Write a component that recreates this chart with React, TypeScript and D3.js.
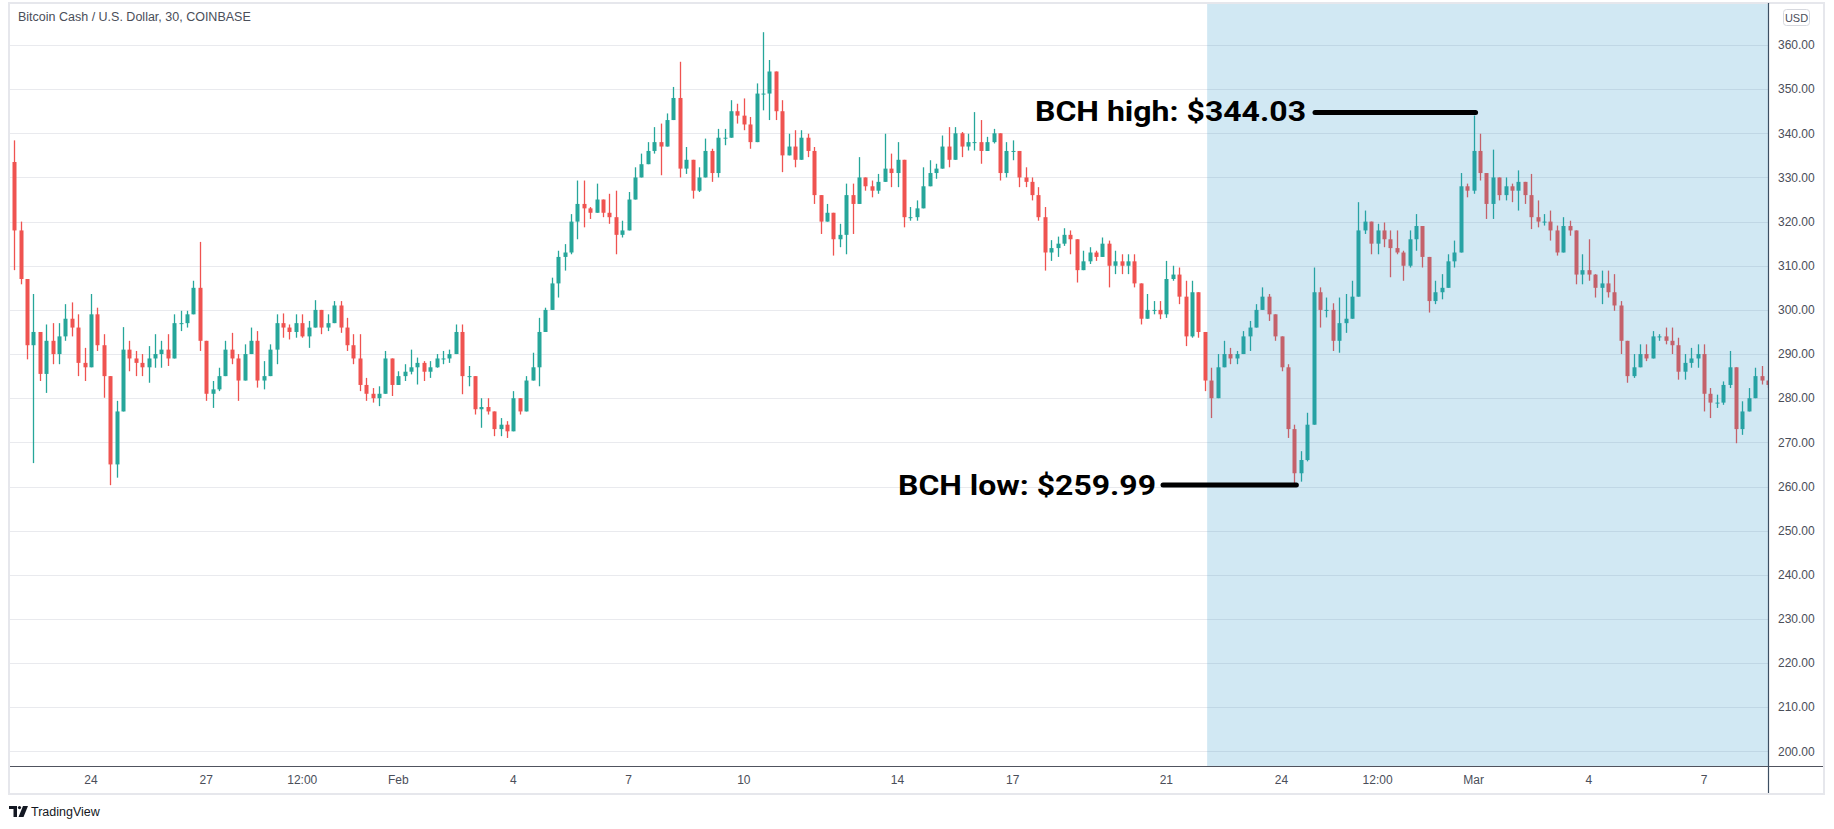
import React from "react";
import * as d3 from "d3";

// 4-hour candles, first bar Jan 22 2022 00:00 UTC
const startTime = Date.UTC(2022, 0, 22, 0, 0);
const barHours = 4;
const firstOpen = 333.5;

const closes = [
  318, 307, 292, 295, 285.5, 293, 290, 294, 298, 296,
  288, 287, 299, 292, 285, 265, 277, 291, 289, 288,
  287, 289, 290, 291, 289, 297, 297, 299, 305, 293,
  281, 282, 285, 291, 289, 284, 290, 293, 284, 285,
  291, 297, 296, 295, 297, 294, 296, 300, 296, 297,
  301, 296, 292, 289, 283, 281, 280, 281, 289, 283,
  285, 286, 287, 288, 286, 287, 289, 289, 290, 295,
  285, 285, 277.5, 278, 277, 273, 274, 272.5, 280, 277,
  284, 287, 295, 300, 306, 312, 313, 320, 324, 323,
  322, 325, 322, 321, 317, 318, 325, 330, 333, 336,
  338, 337, 343, 348, 332, 334, 327, 330, 336, 331,
  339, 339, 345, 344, 342, 338, 349, 349, 354, 345,
  335, 337, 334, 339, 336, 326, 320, 322, 316, 317,
  326, 324, 330, 328, 327, 329, 332, 331, 334, 321,
  321, 323, 328, 331, 332, 337, 334, 340, 337, 338,
  338, 336, 338, 340, 331, 336, 336, 330, 329, 326,
  321, 313, 314, 315, 317, 316, 309, 311, 313, 312,
  315, 310, 311, 310, 311, 306, 298, 300, 300, 299,
  307, 308, 303, 294, 304, 295, 284, 280, 287, 290,
  289, 290, 294, 296, 300, 303, 299, 294, 287, 273,
  263, 266, 274, 304, 300, 300, 293, 297, 298, 303,
  318, 320, 315, 318, 316, 314, 313, 310, 316, 319,
  312, 302, 304, 305, 311, 313, 328, 327, 336, 331,
  324, 330, 326, 328, 327, 329, 326, 321, 320, 320,
  318, 313, 319, 318, 308, 309, 308, 305, 306, 304,
  301, 293, 285, 287, 290, 289, 294, 294, 293, 292,
  286, 288, 289, 290, 281, 279, 279, 283, 287, 273,
  277, 280, 285, 284, 283,
];

const highs = [
  338.4, 320, 305, 303.6, 294.5, 296.7, 297, 297, 301.3, 301.7,
  299, 291.4, 303.6, 300.5, 294.5, 278.6, 279.4, 296.1, 293, 290.7,
  290, 291.8, 294.5, 293, 294.5, 299, 299.8, 299.8, 306.6, 315.4,
  291, 283.9, 286.9, 293, 294.8, 290, 292.2, 296, 295.2, 288.4,
  292.2, 299, 299.2, 296.7, 299, 299, 297.5, 302.2, 299.8, 299,
  302, 302, 298.2, 294.5, 294.5, 284.6, 282.3, 282.7, 290.7, 287.7,
  286.1, 287.7, 291, 289.2, 288.4, 288.4, 290, 290.7, 291, 296.7,
  296.7, 287.3, 283.1, 280, 280, 275.5, 275.5, 274.8, 281.6, 280,
  285, 290.3, 298.2, 300.5, 307.3, 313.4, 314.9, 321.7, 329.3, 329.3,
  323.3, 328.6, 324.8, 326.3, 327, 320.2, 326.7, 332.3, 335.4, 338,
  341.4, 342.2, 344.5, 350.5, 356.2, 336.9, 333.1, 332.3, 338.8, 336.5,
  341, 341, 347.5, 346.7, 347.9, 343.7, 351.3, 362.9, 356.6, 349.8,
  347.5, 339.9, 340.7, 340.7, 339.9, 336.9, 323.3, 324, 320.2, 319.5,
  328.6, 328.6, 334.6, 330, 329.3, 330.8, 339.9, 335.4, 338, 329.3,
  323.3, 324.8, 332.3, 333.9, 333.1, 339.5, 341.4, 341.4, 340.3, 339.9,
  344.8, 343, 339.2, 341, 338.4, 338, 338.4, 335.4, 332.3, 330,
  327.8, 323.3, 315.8, 316.6, 318.5, 318, 314.2, 313.4, 314.2, 313.4,
  316.4, 315.7, 313.4, 312.6, 312.6, 312.6, 305.1, 303.6, 302, 302,
  311.1, 310, 309.6, 306.6, 306.6, 300.5, 292.2, 286.9, 290, 293,
  291.4, 290.7, 295.2, 297.5, 301.3, 305.1, 303.6, 297.5, 293.7, 287.7,
  274, 268, 276.7, 309.6, 305.1, 302.8, 301.5, 302.8, 303.6, 306.6,
  324.4, 322.5, 319.5, 319.5, 319.8, 318, 318, 313.4, 318, 321.7,
  319, 308.9, 306.6, 308.1, 312.6, 315.7, 331, 328.6, 344.03, 339.9,
  329.7, 336.3, 330, 330, 328.6, 331.6, 328.9, 330.8, 324.8, 321.7,
  322.5, 319.1, 321, 320.2, 317.2, 312.6, 316, 308.1, 308.9, 308.9,
  308.1, 302, 290.7, 290, 292.2, 292.2, 295.2, 294.5, 296, 296,
  293.7, 290, 291.4, 292.2, 292.2, 282.3, 280.8, 283.8, 290.7, 286.1,
  279.3, 282.3, 286.9, 287.3, 283.5,
];

const lows = [
  309, 305.8, 288.8, 265.3, 283.9, 281.2, 287.7, 287.7, 293, 294,
  285, 283.9, 289.9, 290.7, 280.1, 260.3, 262, 279.4, 286.1, 285,
  285, 283.5, 286.9, 286.9, 287.3, 290, 295.2, 296, 299.8, 290.7,
  279.4, 277.8, 281.6, 286.1, 287.7, 279.4, 286.1, 290, 282.4, 282,
  285.4, 287.7, 293.7, 293.3, 293.7, 293.7, 291.4, 296, 294.5, 295.2,
  299, 294.8, 290.7, 287.7, 281.6, 279.4, 279, 278.2, 281.6, 280.5,
  283.1, 283.9, 285.4, 283.1, 283.9, 284.6, 286.9, 287.7, 288, 290,
  280.9, 282.7, 276.3, 273.3, 276.3, 271.4, 271.4, 271, 275.5, 276.3,
  280.8, 285.4, 282.7, 297.5, 300.5, 302.8, 308.9, 312.6, 316, 318.7,
  320.6, 322.5, 321, 319.5, 312.6, 316.4, 318, 326.3, 330.8, 333.1,
  335.4, 330.5, 337.7, 346, 330, 330.8, 325.2, 326.7, 332.3, 329,
  330, 337.3, 342.2, 342.2, 340.7, 336.5, 339.9, 345.2, 343, 343,
  331.2, 335.4, 332.3, 335.4, 334.6, 324, 317.2, 320.2, 312.3, 314.2,
  312.6, 317.2, 325.5, 327, 325.5, 326.3, 330.8, 327.8, 327.8, 318.7,
  320.2, 320.2, 324.8, 329.3, 329.7, 335.4, 332.3, 336.9, 334.6, 336.1,
  336.1, 333.1, 336.1, 337.7, 329.3, 330, 333.9, 327.8, 327.8, 324.8,
  320.2, 308.9, 311.1, 312, 314.5, 312.6, 306.2, 309.6, 310.4, 311.1,
  313.4, 305.1, 308.1, 308.1, 308.1, 305.1, 296.7, 298.2, 299, 297.9,
  298.2, 306.6, 301.3, 291.8, 293.7, 293.7, 281.6, 275.5, 280.1, 287.7,
  287.7, 287.7, 290, 290.7, 297.5, 300.5, 297.5, 293, 286.1, 271,
  259.99, 261.1, 265.7, 276.3, 296, 298.3, 290.7, 290.3, 294.8, 299,
  305.8, 317.2, 312.6, 312.6, 314.2, 307.4, 312.6, 306.6, 309.6, 313.4,
  309.6, 299.4, 301.3, 302.4, 308.1, 309.6, 315.7, 325.5, 326.3, 329.3,
  320.6, 320.6, 324.8, 324.8, 324.4, 322.5, 324, 318.3, 318.7, 319.1,
  315.7, 312.3, 314.9, 316.8, 305.8, 305.8, 306.6, 302.8, 301.3, 302.8,
  299.8, 290, 283.5, 284.6, 288.4, 288.4, 290.7, 293, 292.2, 290,
  284.2, 284.2, 286.9, 286.9, 277, 275.5, 277.8, 278.5, 282.3, 269.8,
  271.7, 277.8, 282.3, 283.1, 282.3,
];

const priceTicks = [200, 210, 220, 230, 240, 250, 260, 270, 280, 290, 300, 310, 320, 330, 340, 350, 360];

const timeTickDates = [
  Date.UTC(2022, 0, 24), Date.UTC(2022, 0, 27), Date.UTC(2022, 0, 29, 12), Date.UTC(2022, 1, 1),
  Date.UTC(2022, 1, 4), Date.UTC(2022, 1, 7), Date.UTC(2022, 1, 10), Date.UTC(2022, 1, 14),
  Date.UTC(2022, 1, 17), Date.UTC(2022, 1, 21), Date.UTC(2022, 1, 24), Date.UTC(2022, 1, 26, 12),
  Date.UTC(2022, 2, 1), Date.UTC(2022, 2, 4), Date.UTC(2022, 2, 7),
];
const timeTickLabels = ["24", "27", "12:00", "Feb", "4", "7", "10", "14", "17", "21", "24", "12:00", "Mar", "4", "7"];

const highIndex = 228;
const highValue = 344.03;
const lowIndex = 200;
const lowValue = 259.99;
const shadeStart = Date.UTC(2022, 1, 22, 1, 30);

const W = 1834;
const H = 829;
const plot = { left: 10, right: 1768, top: 4, bottom: 766 };
const UP = "#26a69a";
const DOWN = "#ef5350";
const TXT = "#4a4e59";

export default function App() {
  const x = d3
    .scaleTime()
    .domain([new Date(Date.UTC(2022, 0, 24)), new Date(Date.UTC(2022, 2, 7))])
    .range([91, 1704]);
  const y = d3.scaleLinear().domain([200, 360]).range([751.4, 45]);

  const candles = closes.map((c, i) => {
    const o = i === 0 ? firstOpen : closes[i - 1];
    const t = new Date(startTime + i * barHours * 3600e3);
    return { t, o, c, h: highs[i], l: lows[i] };
  });

  const bodyW = 4;
  const xHigh = x(candles[highIndex].t);
  const xLow = x(candles[lowIndex].t);
  const shadeX = x(new Date(shadeStart));

  return (
    <svg
      width={W}
      height={H}
      style={{ position: "absolute", left: 0, top: 0, background: "#fff" }}
      fontFamily="'Liberation Sans', Arial, sans-serif"
    >
      <defs>
        <clipPath id="plotClip">
          <rect x={plot.left} y={plot.top} width={plot.right - plot.left} height={plot.bottom - plot.top} />
        </clipPath>
      </defs>

      {/* frame */}
      <rect x={9} y={3} width={1815} height={791} fill="#fff" stroke="#e6e7ec" strokeWidth={2} />

      {/* grid */}
      {priceTicks.map((p) => (
        <line key={p} x1={plot.left} x2={plot.right} y1={Math.round(y(p)) + 0.5} y2={Math.round(y(p)) + 0.5} stroke="#e9eaee" strokeWidth={1} />
      ))}

      {/* candles */}
      <g clipPath="url(#plotClip)">
        {candles.map((d, i) => {
          const cx = Math.round(x(d.t)) + 0.5;
          const col = d.c >= d.o ? UP : DOWN;
          const top = y(Math.max(d.h, d.o, d.c));
          const bot = y(Math.min(d.l, d.o, d.c));
          const b0 = y(Math.max(d.o, d.c));
          const b1 = y(Math.min(d.o, d.c));
          return (
            <g key={i}>
              <line x1={cx} x2={cx} y1={top} y2={bot} stroke={col} strokeWidth={1.3} />
              <rect x={cx - bodyW / 2} y={b0} width={bodyW} height={Math.max(1, b1 - b0)} fill={col} />
            </g>
          );
        })}
        {/* shaded range */}
        <rect x={shadeX} y={plot.top - 1} width={plot.right - shadeX} height={plot.bottom - plot.top + 2} fill="rgb(46,150,200)" fillOpacity={0.22} />
      </g>

      {/* axes borders */}
      <line x1={plot.left} x2={1823} y1={plot.bottom + 0.5} y2={plot.bottom + 0.5} stroke="#50535e" strokeWidth={1.2} />
      <line x1={plot.right + 0.5} x2={plot.right + 0.5} y1={3} y2={793} stroke="#3d4f63" strokeWidth={1.2} />

      {/* title */}
      <text x={18} y={21} fontSize={12.5} fill={TXT}>Bitcoin Cash / U.S. Dollar, 30, COINBASE</text>

      {/* price axis */}
      <rect x={1783.5} y={9.5} width={26} height={16} rx={3} fill="#fff" stroke="#d6d8de" />
      <text x={1796.5} y={21.5} fontSize={11} textAnchor="middle" fill={TXT}>USD</text>
      {priceTicks.map((p) => (
        <text key={p} x={1778} y={y(p)} dy="0.35em" fontSize={12} fill={TXT}>
          {p.toFixed(2)}
        </text>
      ))}

      {/* time axis */}
      {timeTickDates.map((t, i) => (
        <text key={i} x={x(new Date(t))} y={780} dy="0.35em" fontSize={12} textAnchor="middle" fill={TXT}>
          {timeTickLabels[i]}
        </text>
      ))}

      {/* annotations */}
      <g fontFamily="Roboto, sans-serif" fontWeight={700} fill="#000">
        <line x1={1315} x2={xHigh + 2} y1={y(highValue) - 3} y2={y(highValue) - 3} stroke="#000" strokeWidth={5} strokeLinecap="round" />
        <text x={1035} y={121} fontSize={28} textLength={271} lengthAdjust="spacingAndGlyphs">BCH high: $344.03</text>
        <line x1={1163} x2={xLow + 2} y1={y(lowValue) - 1.5} y2={y(lowValue) - 1.5} stroke="#000" strokeWidth={5} strokeLinecap="round" />
        <text x={898} y={495} fontSize={28} textLength={258} lengthAdjust="spacingAndGlyphs">BCH low: $259.99</text>
      </g>

      {/* logo */}
      <g transform="translate(9,806)" fill="#131722">
        <path d="M0 0 H8 V11 H4.5 V3 H0 Z" />
        <circle cx={10.5} cy={1.6} r={1.6} />
        <path d="M14 0 H19 L14.5 11 H9.5 Z" />
      </g>
      <text x={31} y={816} fontSize={12.5} fill="#131722">TradingView</text>
    </svg>
  );
}
